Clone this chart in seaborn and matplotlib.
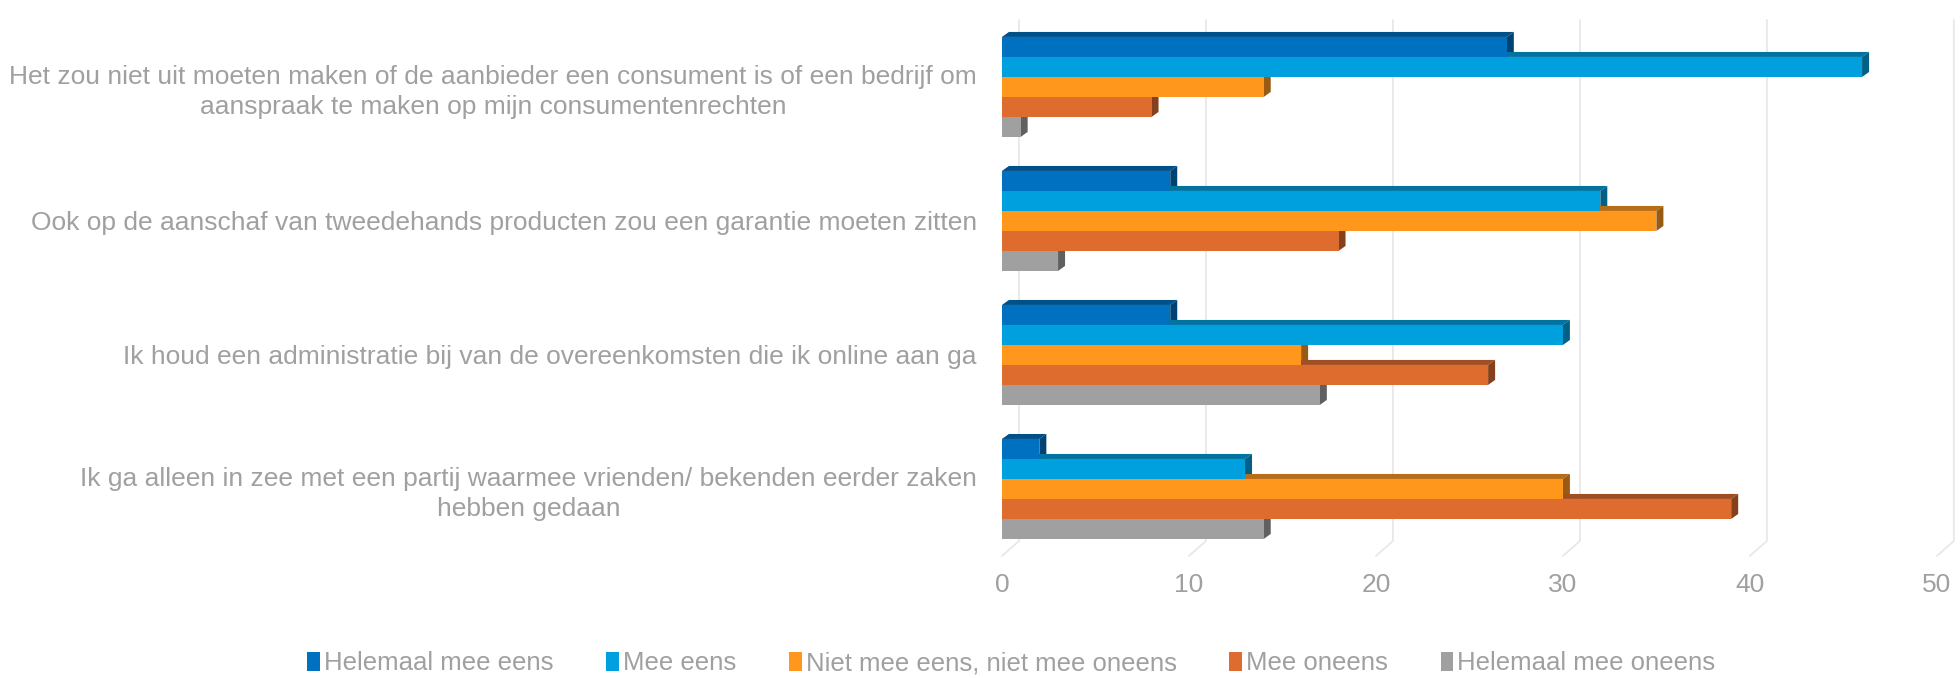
import numpy as np
import pandas as pd
import matplotlib
matplotlib.use('Agg')
import matplotlib.pyplot as plt
import matplotlib.transforms as mtransforms
from matplotlib.patches import Polygon, Patch
import seaborn as sns

# data
stellingen = [
    'Het zou niet uit moeten maken of de aanbieder een consument is of een bedrijf om\naanspraak te maken op mijn consumentenrechten',
    'Ook op de aanschaf van tweedehands producten zou een garantie moeten zitten',
    'Ik houd een administratie bij van de overeenkomsten die ik online aan ga',
    'Ik ga alleen in zee met een partij waarmee vrienden/ bekenden eerder zaken\nhebben gedaan',
]
antwoorden = ['Helemaal mee eens', 'Mee eens', 'Niet mee eens, niet mee oneens',
              'Mee oneens', 'Helemaal mee oneens']
helemaal_eens = [27, 9, 9, 2]
eens = [46, 32, 30, 13]
neutraal = [14, 35, 16, 30]
oneens = [8, 18, 26, 39]
helemaal_oneens = [1, 3, 17, 14]
kleuren = ['#0070C0', '#00A0DF', '#FF971D', '#DF6C2F', '#A0A0A0']
xticks = [0, 10, 20, 30, 40, 50]

series = [helemaal_eens, eens, neutraal, oneens, helemaal_oneens]
rows = []
for ant, vals in zip(antwoorden, series):
    for st, v in zip(stellingen, vals):
        rows.append({'stelling': st, 'antwoord': ant, 'waarde': v})
df = pd.DataFrame(rows)

sns.set_style('white')
plt.rcParams['font.family'] = ['Liberation Sans', 'DejaVu Sans']
txt_grey = '#A0A0A0'

fig = plt.figure(figsize=(19.6, 6.78), dpi=100)
ax = fig.add_axes([0.5112, 0.180, 0.477, 0.7906])

sns.barplot(data=df, y='stelling', x='waarde', hue='antwoord', order=stellingen,
            hue_order=antwoorden, palette=kleuren, orient='h', width=0.746,
            saturation=1, errorbar=None, legend=False, linewidth=0, ax=ax, zorder=3)

ax.set_xlim(0, 50)
ax.set_ylim(len(stellingen) - 0.5, -0.5)
ax.set_xticks(xticks)
ax.set_xlabel('')
ax.set_ylabel('')
for s in ax.spines.values():
    s.set_visible(False)
ax.tick_params(axis='both', length=0, labelcolor=txt_grey)
ax.tick_params(axis='x', pad=12, labelsize=19)
ax.tick_params(axis='y', pad=18, labelsize=19)
for lab in ax.get_yticklabels():
    lab.set_multialignment('center')
    lab.set_linespacing(1.3)

# pixel -> data conversion for the pseudo 3d look
p0 = ax.transData.transform((0, 0))
p1 = ax.transData.transform((1, 1))
px_x = abs(p1[0] - p0[0])
px_y = abs(p1[1] - p0[1])

# back wall gridlines with a slanted floor part
wall_dx = 17 / px_x
floor_frac = 15 / (ax.get_position().height * fig.get_figheight() * fig.dpi)
blend = mtransforms.blended_transform_factory(ax.transData, ax.transAxes)
for v in xticks:
    ax.plot([v + wall_dx, v + wall_dx, v], [1, floor_frac, 0], transform=blend,
            color='#E8E8E8', lw=1.3, zorder=1, clip_on=False)

# bar depth (top + side faces)
ddx = 7 / px_x
ddy = 5 / px_y
for p in list(ax.patches):
    x0, w = p.get_x(), p.get_width()
    y0, h = p.get_y(), p.get_height()
    x1 = x0 + w
    ytop, ybot = min(y0, y0 + h), max(y0, y0 + h)
    fc = np.array(p.get_facecolor()[:3])
    top = Polygon([(x0, ytop), (x0 + ddx, ytop - ddy), (x1 + ddx, ytop - ddy), (x1, ytop)],
                  closed=True, facecolor=tuple(fc * 0.72), edgecolor='none', zorder=2)
    side = Polygon([(x1, ytop), (x1 + ddx, ytop - ddy), (x1 + ddx, ybot - ddy), (x1, ybot)],
                   closed=True, facecolor=tuple(fc * 0.6), edgecolor='none', zorder=2)
    ax.add_patch(top)
    ax.add_patch(side)

handles = [Patch(facecolor=c, edgecolor='none') for c in kleuren]
leg = fig.legend(handles, antwoorden, loc='center', bbox_to_anchor=(0.516, 0.022), ncol=5,
                 frameon=False, fontsize=18.5, handlelength=0.5, handleheight=0.75,
                 handletextpad=0.15, columnspacing=2.05)
for t in leg.get_texts():
    t.set_color(txt_grey)

fig.savefig('out.png', dpi=100)
